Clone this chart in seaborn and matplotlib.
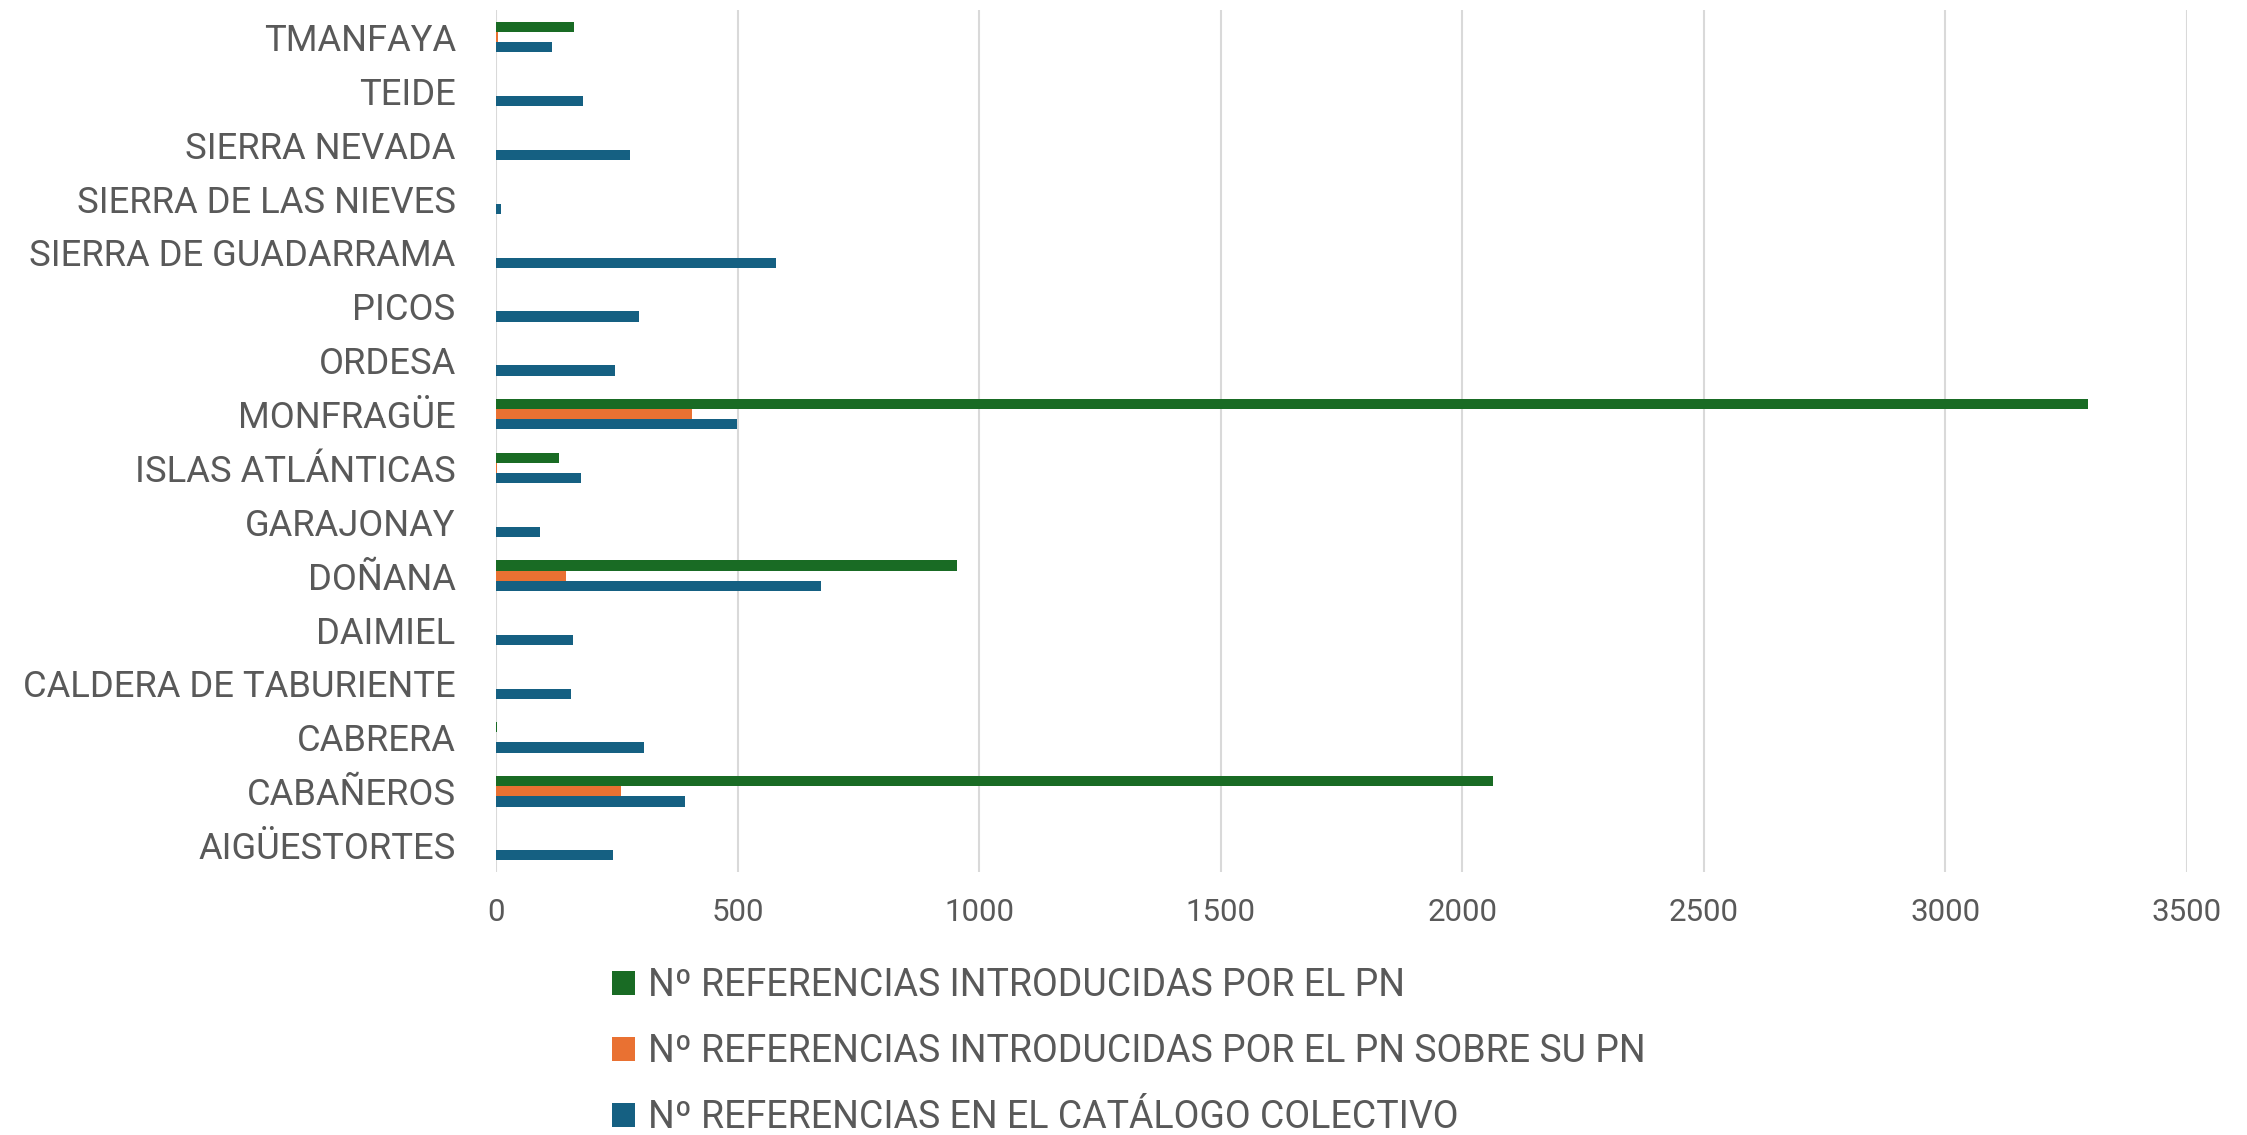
import matplotlib
matplotlib.use("Agg")
import matplotlib.pyplot as plt
import seaborn as sns
import pandas as pd
from matplotlib.patches import Patch

parks = ["TMANFAYA", "TEIDE", "SIERRA NEVADA", "SIERRA DE LAS NIEVES",
         "SIERRA DE GUADARRAMA", "PICOS", "ORDESA", "MONFRAGÜE",
         "ISLAS ATLÁNTICAS", "GARAJONAY", "DOÑANA", "DAIMIEL",
         "CALDERA DE TABURIENTE", "CABRERA", "CABAÑEROS", "AIGÜESTORTES"]
series_names = ["Nº REFERENCIAS INTRODUCIDAS POR EL PN",
                "Nº REFERENCIAS INTRODUCIDAS POR EL PN SOBRE SU PN",
                "Nº REFERENCIAS EN EL CATÁLOGO COLECTIVO"]
intro_pn = [161, 0, 0, 0, 0, 0, 0, 3295, 131, 0, 955, 0, 0, 2, 2064, 0]
intro_sobre_pn = [5, 0, 0, 0, 0, 0, 0, 406, 3, 0, 145, 0, 0, 0, 259, 0]
catalogo = [115, 181, 278, 11, 580, 297, 246, 499, 175, 92, 672, 159, 155, 307, 391, 243]
x_ticks = [0, 500, 1000, 1500, 2000, 2500, 3000, 3500]
colors = ["#196B24", "#E97132", "#156082"]
text_color = "#595959"

rows = []
for name, vals in zip(series_names, [intro_pn, intro_sobre_pn, catalogo]):
    for p, v in zip(parks, vals):
        rows.append({"park": p, "value": v, "serie": name})
df = pd.DataFrame(rows)

sns.set_theme(style="white")
plt.rcParams["font.family"] = ["Roboto", "DejaVu Sans"]

fig = plt.figure(figsize=(22.47, 11.35), dpi=100)
ax = fig.add_axes([496 / 2247, 1 - 872 / 1135, (2187 - 496) / 2247, (872 - 10) / 1135])

sns.barplot(data=df, x="value", y="park", hue="serie", order=parks,
            hue_order=series_names, palette=colors, orient="h",
            width=0.57, linewidth=0, saturation=1, ax=ax, legend=False)

ax.set_xlim(0, 3500)
ax.set_ylim(len(parks) - 0.5, -0.5)
ax.set_xticks(x_ticks)
ax.set_xticklabels([str(t) for t in x_ticks])
ax.xaxis.grid(True, color="#D9D9D9", linewidth=1.5)
ax.yaxis.grid(False)
ax.set_axisbelow(True)
for s in ax.spines.values():
    s.set_visible(False)
ax.set_xlabel("")
ax.set_ylabel("")
ax.tick_params(axis="x", length=0, pad=19, labelsize=22.5, labelcolor=text_color)
ax.tick_params(axis="y", length=0, pad=29, labelsize=26.2, labelcolor=text_color)
for lbl in ax.get_yticklabels():
    lbl.set_y(lbl.get_position()[1])

handles = [Patch(facecolor=c, edgecolor="none") for c in colors]
fig.legend(handles, series_names, loc="upper left",
           bbox_to_anchor=(597 / 2247, 1 - 952 / 1135), frameon=False,
           fontsize=27, labelcolor=text_color, handlelength=0.6,
           handleheight=0.6, handletextpad=0.35, labelspacing=0.78,
           borderaxespad=0)

fig.savefig("out.png", dpi=100)
